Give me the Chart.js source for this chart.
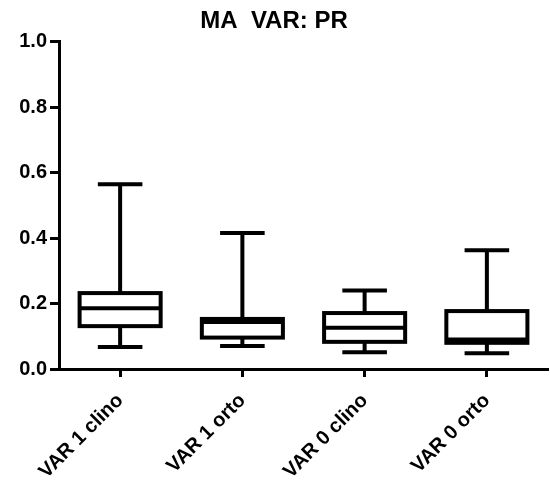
<!DOCTYPE html>
<html>
<head>
<meta charset="utf-8">
<script src="https://cdn.jsdelivr.net/npm/chart.js@4/dist/chart.umd.min.js"></script>
<style>
  html, body { margin: 0; padding: 0; background: #ffffff; }
  #wrap { width: 550px; height: 499px; }
</style>
</head>
<body>
<div id="wrap"><canvas id="c" width="550" height="499"></canvas></div>
<script>
// Box-and-whisker summary per group (min, quartiles, median, max)
const categories  = ['VAR 1 clino', 'VAR 1 orto', 'VAR 0 clino', 'VAR 0 orto'];
const whiskerLow  = [0.067, 0.070, 0.051, 0.048];
const quartile1   = [0.131, 0.096, 0.083, 0.080];
const medians     = [0.186, 0.144, 0.126, 0.090];
const quartile3   = [0.232, 0.153, 0.171, 0.177];
const whiskerHigh = [0.565, 0.416, 0.240, 0.363];
const yTicks      = [0.0, 0.2, 0.4, 0.6, 0.8, 1.0];

const FONT = '"Liberation Sans", Arial, Helvetica, sans-serif';
const LINE = 4;

// Strokes whiskers, caps, box outline and median on top of the white box fill
const boxPlotPlugin = {
  id: 'boxPlot',
  afterDatasetsDraw(chart) {
    const { ctx } = chart;
    const x = chart.scales.x, y = chart.scales.y;
    const meta = chart.getDatasetMeta(0);
    ctx.save();
    ctx.strokeStyle = '#000';
    ctx.lineWidth = LINE;
    ctx.lineCap = 'butt';
    categories.forEach((c, i) => {
      const cx = x.getPixelForValue(i);
      const w = meta.data[i].width;
      const capHalf = w * 0.275;
      const yLo = y.getPixelForValue(whiskerLow[i]);
      const yQ1 = y.getPixelForValue(quartile1[i]);
      const yMed = y.getPixelForValue(medians[i]);
      const yQ3 = y.getPixelForValue(quartile3[i]);
      const yHi = y.getPixelForValue(whiskerHigh[i]);
      ctx.beginPath();
      // upper whisker + cap
      ctx.moveTo(cx, yQ3); ctx.lineTo(cx, yHi);
      ctx.moveTo(cx - capHalf, yHi); ctx.lineTo(cx + capHalf, yHi);
      // lower whisker + cap
      ctx.moveTo(cx, yQ1); ctx.lineTo(cx, yLo);
      ctx.moveTo(cx - capHalf, yLo); ctx.lineTo(cx + capHalf, yLo);
      ctx.stroke();
      // box
      ctx.strokeRect(cx - w / 2, yQ3, w, yQ1 - yQ3);
      // median
      ctx.beginPath();
      ctx.moveTo(cx - w / 2, yMed); ctx.lineTo(cx + w / 2, yMed);
      ctx.stroke();
    });
    ctx.restore();
  }
};

new Chart(document.getElementById('c'), {
  type: 'bar',
  data: {
    labels: categories,
    datasets: [{
      data: categories.map((c, i) => [quartile1[i], quartile3[i]]),
      backgroundColor: '#ffffff',
      borderWidth: 0,
      barPercentage: 0.663,
      categoryPercentage: 1.0
    }]
  },
  options: {
    responsive: false,
    animation: false,
    layout: { padding: { left: 0, right: 2, top: 0, bottom: 0 } },
    plugins: {
      legend: { display: false },
      tooltip: { enabled: false },
      title: {
        display: true,
        text: 'MA  VAR: PR',
        color: '#000',
        font: { family: FONT, size: 24, weight: 'bold' },
        padding: { top: 7, bottom: 6 }
      }
    },
    scales: {
      x: {
        offset: true,
        grid: {
          display: true, drawOnChartArea: false, drawTicks: true, offset: false,
          tickLength: 8, tickWidth: 3, tickColor: '#000'
        },
        border: { display: true, color: '#000', width: 3 },
        ticks: {
          color: '#000', font: { family: FONT, size: 20, weight: 'bold' },
          maxRotation: 45, minRotation: 45, padding: 12, autoSkip: false
        },
        afterFit(scale) { scale.height = 130; }
      },
      y: {
        min: 0, max: 1,
        afterBuildTicks(scale) { scale.ticks = yTicks.map(v => ({ value: v })); },
        grid: {
          display: true, drawOnChartArea: false, drawTicks: true,
          tickLength: 9, tickWidth: 3, tickColor: '#000'
        },
        border: { display: true, color: '#000', width: 3 },
        ticks: {
          color: '#000', font: { family: FONT, size: 20, weight: 'bold' },
          padding: 3,
          callback: (v) => Number(v).toFixed(1)
        },
        afterFit(scale) { scale.width = 59; }
      }
    }
  },
  plugins: [boxPlotPlugin]
});
</script>
</body>
</html>
